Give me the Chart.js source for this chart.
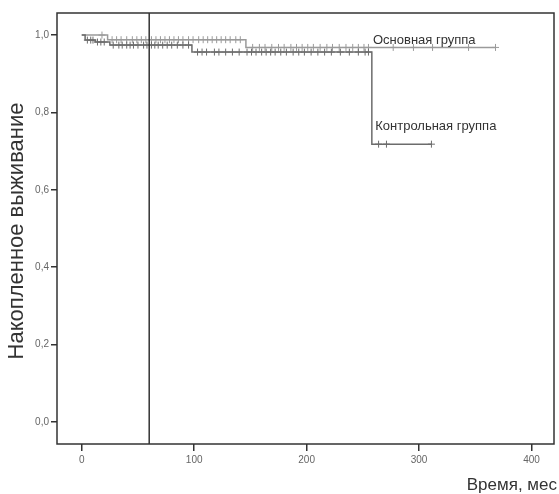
<!DOCTYPE html>
<html>
<head>
<meta charset="utf-8">
<script src="https://cdn.jsdelivr.net/npm/chart.js@4"></script>
<style>
  html, body { margin: 0; padding: 0; background: #fff; }
  #wrap { width: 559px; height: 494px; }
</style>
</head>
<body>
<div id="wrap"><canvas id="km"></canvas></div>
<script>
// Kaplan-Meier steps: time (months) and cumulative survival
const mainTimes = [0, 23, 146, 368];
const mainSurv  = [1.0, 0.988, 0.968, 0.968];
const ctrlTimes = [0, 3, 12, 25, 98, 258, 311];
const ctrlSurv  = [1.0, 0.987, 0.982, 0.974, 0.956, 0.718, 0.718];

// censored observations (months)
const mainCensored = [18, 27, 31, 35, 40, 45, 49, 53, 57, 62, 66, 70, 74, 78, 82, 86, 90, 95, 99, 104, 108,
  112, 116, 120, 124, 128, 132, 137, 141, 152, 158, 163, 169, 175, 180, 186, 191, 196, 201, 206, 212,
  218, 223, 229, 235, 241, 246, 251, 255, 277, 295, 312, 344, 368];
const ctrlCensored = [5, 8, 10, 14, 17, 20, 28, 33, 36, 40, 43, 46, 50, 55, 58, 62, 65, 68, 72, 76, 80, 85,
  90, 95, 103, 107, 111, 118, 122, 128, 134, 140, 147, 151, 155, 160, 164, 168, 172, 177, 182, 188, 193,
  198, 204, 210, 216, 222, 230, 238, 246, 252, 255, 264, 271, 311];

const refLine = 60;
const xTicks = [0, 100, 200, 300, 400];
const yTicks = [0, 0.2, 0.4, 0.6, 0.8, 1.0];
const yTickLabels = ['0,0', '0,2', '0,4', '0,6', '0,8', '1,0'];

const mainLabel = 'Основная группа';
const ctrlLabel = 'Контрольная группа';
const xTitle = 'Время, мес';
const yTitle = 'Накопленное выживание';

function survivalAt(times, surv, t) {
  let s = surv[0];
  for (let i = 0; i < times.length; i++) {
    if (times[i] <= t) s = surv[i];
  }
  return s;
}

const toPoints = (times, surv) => times.map((t, i) => ({ x: t, y: surv[i] }));
const toCensor = (list, times, surv) => list.map(t => ({ x: t, y: survivalAt(times, surv, t) }));

const mainColor = '#9a9a9a';
const ctrlColor = '#6c6c6c';

const decor = {
  id: 'decor',
  afterDraw(chart) {
    const { ctx, chartArea: a, scales: { x, y } } = chart;
    ctx.save();
    ctx.strokeStyle = '#333';
    ctx.lineWidth = 1.5;
    const px = x.getPixelForValue(refLine);
    ctx.beginPath();
    ctx.moveTo(px, a.top);
    ctx.lineTo(px, a.bottom);
    ctx.stroke();
    ctx.strokeRect(a.left, a.top, a.right - a.left, a.bottom - a.top);

    ctx.fillStyle = '#333';
    ctx.font = '13px "Liberation Sans", Arial, sans-serif';
    ctx.textBaseline = 'alphabetic';
    ctx.textAlign = 'left';
    ctx.fillText(mainLabel, x.getPixelForValue(259), y.getPixelForValue(0.968) - 3);
    ctx.fillText(ctrlLabel, x.getPixelForValue(261), y.getPixelForValue(0.718) - 14);

    ctx.font = '17px "Liberation Sans", Arial, sans-serif';
    ctx.textAlign = 'right';
    ctx.fillText(xTitle, 557, 490);

    ctx.font = '22px "Liberation Sans", Arial, sans-serif';
    ctx.textAlign = 'center';
    ctx.textBaseline = 'middle';
    ctx.translate(17, 231);
    ctx.rotate(-Math.PI / 2);
    ctx.fillText(yTitle, 0, 0);
    ctx.restore();
  }
};

new Chart(document.getElementById('km'), {
  type: 'line',
  data: {
    datasets: [
      { data: toPoints(ctrlTimes, ctrlSurv), stepped: true, borderColor: ctrlColor, borderWidth: 1.5, pointRadius: 0, fill: false },
      { data: toPoints(mainTimes, mainSurv), stepped: true, borderColor: mainColor, borderWidth: 1.5, pointRadius: 0, fill: false },
      { type: 'scatter', data: toCensor(ctrlCensored, ctrlTimes, ctrlSurv), showLine: false, pointStyle: 'cross',
        pointRadius: 3.5, borderColor: ctrlColor, borderWidth: 1 },
      { type: 'scatter', data: toCensor(mainCensored, mainTimes, mainSurv), showLine: false, pointStyle: 'cross',
        pointRadius: 3.5, borderColor: mainColor, borderWidth: 1 }
    ]
  },
  options: {
    responsive: true,
    maintainAspectRatio: false,
    animation: false,
    layout: { padding: { top: 13, right: 2, left: 0, bottom: 0 } },
    plugins: { legend: { display: false }, tooltip: { enabled: false } },
    scales: {
      x: {
        type: 'linear',
        min: -22,
        max: 420,
        afterBuildTicks: s => { s.ticks = xTicks.map(v => ({ value: v })); },
        afterFit: s => { s.height = 50; },
        grid: { drawOnChartArea: false, drawTicks: true, tickLength: 7, color: '#333', lineWidth: 1.5 },
        border: { display: false },
        ticks: { color: '#666', padding: 3, font: { size: 10, family: 'Liberation Sans' }, maxRotation: 0 }
      },
      y: {
        type: 'linear',
        min: -0.057,
        max: 1.057,
        afterBuildTicks: s => { s.ticks = yTicks.map(v => ({ value: v })); },
        afterFit: s => { s.width = 57; },
        grid: { drawOnChartArea: false, drawTicks: true, tickLength: 6, color: '#333', lineWidth: 1.5 },
        border: { display: false },
        ticks: {
          color: '#666', padding: 2, font: { size: 10, family: 'Liberation Sans' },
          callback: v => yTickLabels[yTicks.indexOf(v)]
        }
      }
    }
  },
  plugins: [decor]
});
</script>
</body>
</html>
